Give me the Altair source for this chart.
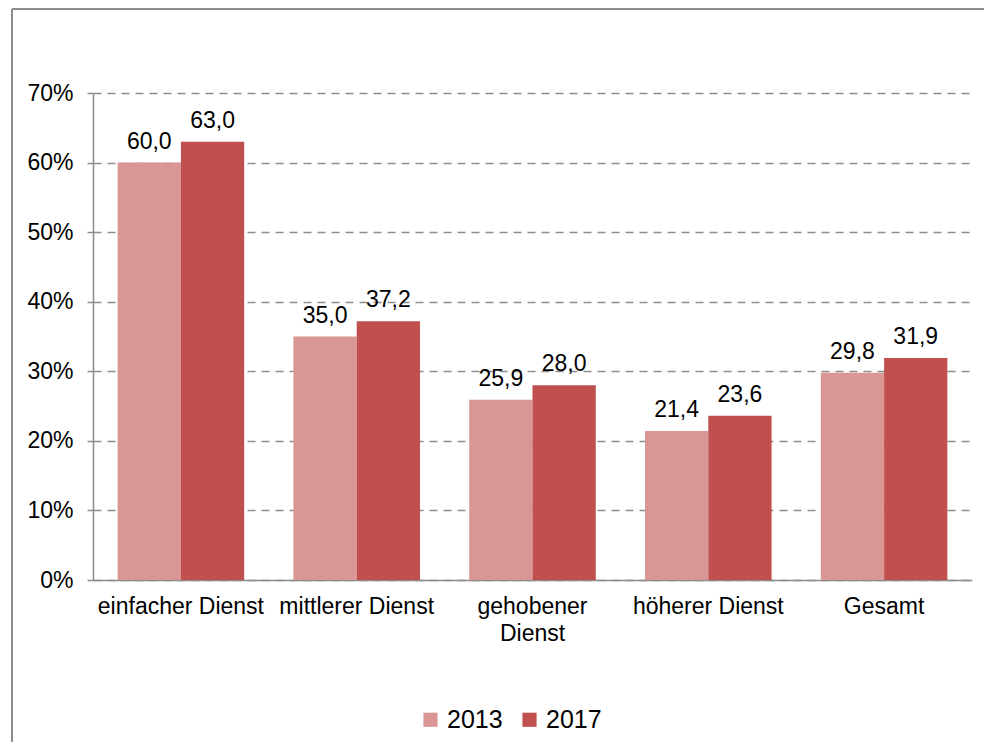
import altair as alt
import pandas as pd

categories = ["einfacher Dienst", "mittlerer Dienst", "gehobener Dienst", "höherer Dienst", "Gesamt"]
years = ["2013", "2017"]
values_2013 = [60.0, 35.0, 25.9, 21.4, 29.8]
values_2017 = [63.0, 37.2, 28.0, 23.6, 31.9]
colors = ["#D99694", "#C0504D"]
y_ticks = [0, 10, 20, 30, 40, 50, 60, 70]

rows = []
for c, a, b in zip(categories, values_2013, values_2017):
    rows.append({"cat": c, "year": years[0], "value": a})
    rows.append({"cat": c, "year": years[1], "value": b})
df = pd.DataFrame(rows)

FONT = "Liberation Sans"
GRAY = "#8c8c8c"

x_enc = alt.X(
    "cat:N",
    sort=categories,
    title=None,
    scale=alt.Scale(paddingInner=0.28, paddingOuter=0.14),
    axis=alt.Axis(
        labelAngle=0,
        ticks=False,
        domainColor=GRAY,
        domainWidth=1.5,
        labelFontSize=23,
        labelColor="black",
        labelPadding=15,
        labelLineHeight=27,
        labelOverlap=False,
        labelExpr="datum.value == 'gehobener Dienst' ? ['gehobener', 'Dienst'] : datum.value",
        grid=False,
    ),
)
y_enc = alt.Y(
    "value:Q",
    title=None,
    scale=alt.Scale(domain=[0, 70]),
    axis=alt.Axis(
        values=y_ticks,
        labelExpr="datum.value + '%'",
        tickSize=6,
        tickColor=GRAY,
        tickWidth=1.5,
        domainColor=GRAY,
        domainWidth=1.5,
        gridColor=GRAY,
        gridDash=[8, 6],
        gridWidth=1.5,
        labelFontSize=23,
        labelColor="black",
        labelPadding=14,
    ),
)

base = alt.Chart(df).transform_calculate(
    label="replace(format(datum.value, '.1f'), '.', ',')"
)

bars = base.mark_bar().encode(
    x=x_enc,
    xOffset=alt.XOffset("year:N", sort=years),
    y=y_enc,
    color=alt.Color(
        "year:N",
        scale=alt.Scale(domain=years, range=colors),
        legend=alt.Legend(
            title=None,
            orient="none",
            legendX=325,
            legendY=614,
            direction="horizontal",
            symbolType="square",
            symbolSize=200,
            symbolStrokeWidth=0,
            labelFontSize=25,
            labelColor="black",
            columnPadding=14,
            labelOffset=4,
        ),
    ),
)

texts = base.mark_text(dy=-14, baseline="alphabetic", fontSize=23, color="black", font=FONT).encode(
    x=alt.X("cat:N", sort=categories),
    xOffset=alt.XOffset("year:N", sort=years),
    y=alt.Y("value:Q"),
    text="label:N",
)

border_df = pd.DataFrame({"k": [0]})
left_border = alt.Chart(border_df).mark_rule(color=GRAY, strokeWidth=2).encode(
    x=alt.value(-81), x2=alt.value(-81), y=alt.value(-84), y2=alt.value(700)
)
top_border = alt.Chart(border_df).mark_rule(color=GRAY, strokeWidth=2).encode(
    x=alt.value(-81), x2=alt.value(891), y=alt.value(-84), y2=alt.value(-84)
)

chart = alt.layer(bars, texts, left_border, top_border).properties(
    width=879,
    height=487,
    autosize=alt.AutoSizeParams(type="none"),
    padding={"left": 85, "top": 85, "right": 12, "bottom": 162},
).configure_view(stroke=None).configure_axis(
    labelFont=FONT
).configure_legend(labelFont=FONT).configure_text(font=FONT)

chart.save("out.html", embed_options={"renderer": "svg", "actions": False})
